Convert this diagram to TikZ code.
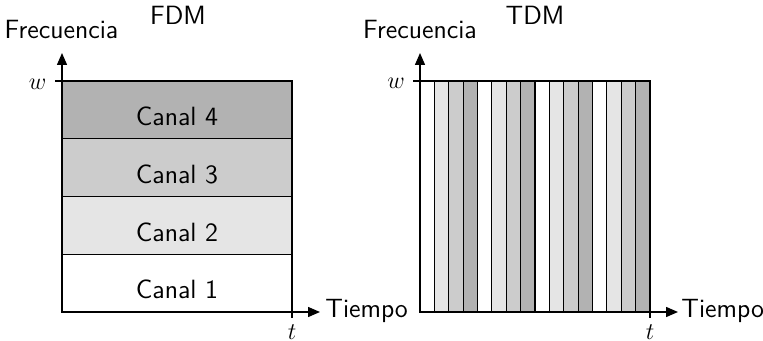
\documentclass[tikz,border=0pt]{standalone}
\usetikzlibrary{arrows.meta}
\begin{document}
\begin{tikzpicture}[x=0.5pt,y=-0.5pt,
  lbl/.style={font=\sffamily\fontsize{13.2}{15}\selectfont, inner sep=0pt},
  mlbl/.style={font=\fontsize{13.2}{15}\selectfont, inner sep=0pt},
  axis/.style={line width=0.7pt, -{Triangle[length=6pt,width=5pt]}},
  band/.style={draw=black, line width=0.6pt},
  tickmark/.style={line width=0.6pt}]
\useasboundingbox (0,0) rectangle (763,341);

% ---------- FDM: frequency bands ----------
\fill[white]    (62,254.25) rectangle (292,312);
\fill[black!10] (62,196.5)  rectangle (292,254.25);
\fill[black!20] (62,138.75) rectangle (292,196.5);
\fill[black!30] (62,81)     rectangle (292,138.75);
\draw[band] (62,81) rectangle (292,312);
\draw[band] (62,138.75) -- (292,138.75);
\draw[band] (62,196.5) -- (292,196.5);
\draw[band] (62,254.25) -- (292,254.25);

\node[lbl] (c4) at (177,116) {Canal 4};
\node[lbl] (c3) at (177,174) {Canal 3};
\node[lbl] (c2) at (177,232) {Canal 2};
\node[lbl] (c1) at (177,289) {Canal 1};

% FDM axes
\coordinate (fo) at (62,312);
\coordinate (fy) at (62,53);
\coordinate (fx) at (320,312);
\coordinate (fw) at (55,81);
\coordinate (fw0) at (62,81);
\coordinate (ft) at (292,312);
\coordinate (ftb) at (292,318);
\draw[tickmark] (fw) -- (fw0);
\draw[tickmark] (ft) -- (ftb);
\draw[axis] (fo) -- (fy);
\draw[axis] (fo) -- (fx);

\node[lbl, anchor=base] (ffreq) at (61.5,39) {Frecuencia};
\node[lbl, anchor=base] (ftitle) at (178,25) {FDM};
\node[lbl, anchor=base west] (ftime) at (325,317) {Tiempo};
\node[mlbl, anchor=base] (fwl) at (37.5,89.5) {$w$};
\node[mlbl, anchor=base] (ftl) at (292,339) {$t$};

% ---------- TDM: time slots ----------
\foreach \i in {0,...,15}{
  \pgfmathtruncatemacro{\k}{mod(\i,4)}
  \pgfmathsetmacro{\xa}{420+\i*14.375}
  \pgfmathsetmacro{\xb}{420+(\i+1)*14.375}
  \ifcase\k
    \def\shade{white}\or\def\shade{black!10}\or\def\shade{black!20}\or\def\shade{black!30}\fi
  \filldraw[band, fill=\shade] (\xa,81) rectangle (\xb,312);
}

% TDM axes
\coordinate (to) at (420,312);
\coordinate (ty) at (420,53);
\coordinate (tx) at (678,312);
\coordinate (tw) at (413,81);
\coordinate (tw0) at (420,81);
\coordinate (tt) at (650,312);
\coordinate (ttb) at (650,318);
\draw[tickmark] (tw) -- (tw0);
\draw[tickmark] (tt) -- (ttb);
\draw[axis] (to) -- (ty);
\draw[axis] (to) -- (tx);

\node[lbl, anchor=base] (tfreq) at (420,38.5) {Frecuencia};
\node[lbl, anchor=base] (ttitle) at (535,25) {TDM};
\node[lbl, anchor=base west] (ttime) at (681,317) {Tiempo};
\node[mlbl, anchor=base] (twl) at (396,89) {$w$};
\node[mlbl, anchor=base] (ttl) at (650,339) {$t$};
\end{tikzpicture}
\end{document}
